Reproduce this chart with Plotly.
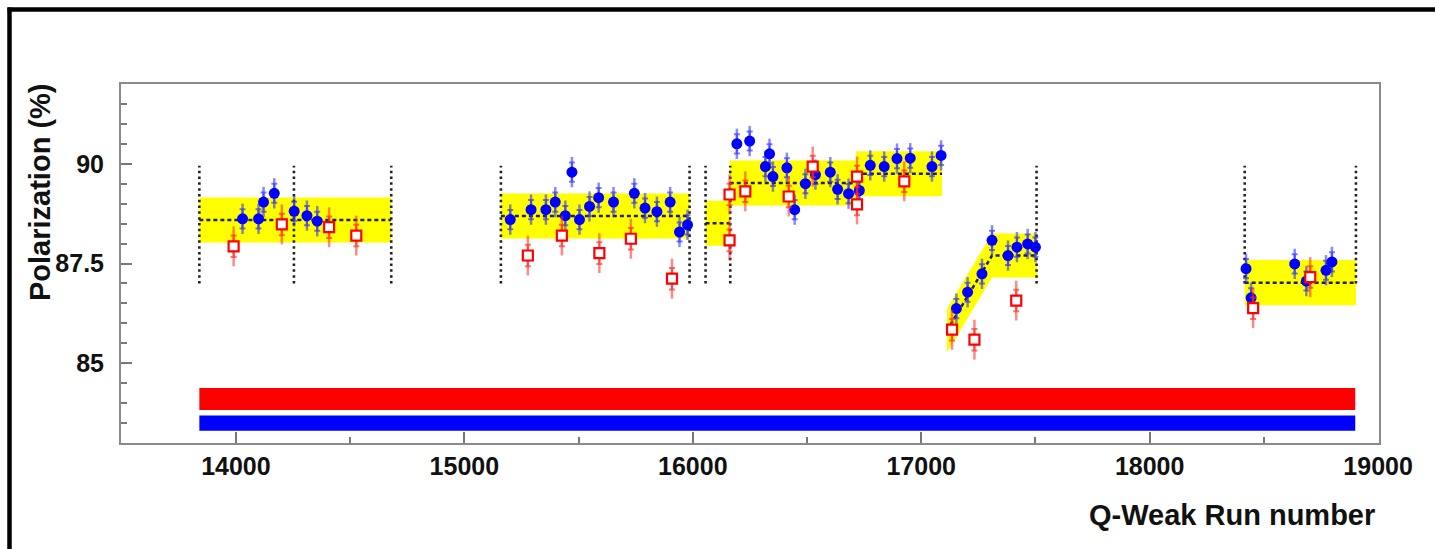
import plotly.graph_objects as go

# ---- measured polarization per run (blue: filled circles, red: open squares) ----
blue_run = [14029, 14099, 14121, 14168, 14255, 14311, 14356,
            15201, 15292, 15357, 15398, 15442, 15471, 15504, 15548, 15588,
            15653, 15744, 15791, 15843, 15901, 15942, 15977,
            16193, 16249, 16318, 16336, 16351, 16412, 16446, 16493, 16537,
            16602, 16634, 16682, 16729, 16777, 16838, 16894, 16952, 17047, 17087,
            17154, 17203, 17266, 17310, 17380, 17419, 17466, 17500,
            18422, 18444, 18635, 18686, 18772, 18798]
blue_pol = [88.62, 88.62, 89.04, 89.26, 88.81, 88.70, 88.56,
            88.60, 88.85, 88.85, 89.04, 88.70, 89.79, 88.60, 88.93, 89.15,
            89.04, 89.26, 88.89, 88.80, 89.04, 88.29, 88.47,
            90.50, 90.57, 89.93, 90.25, 89.68, 89.90, 88.85, 89.50, 89.73,
            89.79, 89.36, 89.25, 89.33, 89.96, 89.93, 90.13, 90.14, 89.93, 90.21,
            86.37, 86.78, 87.24, 88.08, 87.70, 87.91, 87.99, 87.91,
            87.37, 86.64, 87.49, 87.06, 87.33, 87.54]

red_run = [13990, 14201, 14408, 14527,
           15278, 15427, 15591, 15729, 15909,
           16161, 16161, 16230, 16420, 16525, 16719, 16719, 16926,
           17135, 17233, 17416,
           18453, 18703]
red_pol = [87.93, 88.48, 88.41, 88.20,
           87.70, 88.20, 87.76, 88.12, 87.12,
           88.08, 89.23, 89.31, 89.18, 89.93, 89.68, 88.98, 89.56,
           85.84, 85.59, 86.57,
           86.38, 87.16]

# inner (capped) and outer error bars
BLUE_ERR_INNER, BLUE_ERR_OUTER = 0.24, 0.38
RED_ERR_INNER, RED_ERR_OUTER = 0.27, 0.50

# ---- fitted levels per run period: start, end, level ----
flat_start = [13840, 15160, 16056, 16162, 16714, 18416]
flat_end = [14680, 15986, 16162, 16714, 17091, 18903]
flat_level = [88.59, 88.69, 88.51, 89.52, 89.75, 87.02]
BAND_HALF = 0.565

# ramp period: linear rise followed by a plateau
ramp_run = [17113, 17310, 17507]
ramp_level = [85.82, 87.70, 87.70]
RAMP_HALF = 0.55

# period boundaries (dotted markers)
boundary_run = [13840, 14254, 14680, 15160, 15986, 16056, 16164, 17505, 18416, 18903]
boundary_low, boundary_high = 87.0, 89.95

# horizontal reference bars near the bottom
bar_start, bar_end = 13840, 18900
red_bar = [83.83, 84.38]
blue_bar = [83.31, 83.69]

YELLOW = "#ffff00"
fig = go.Figure()

# reference bars
for (lo, hi), col in ((red_bar, "#ff0000"), (blue_bar, "#0000ff")):
    fig.add_trace(go.Scatter(
        x=[bar_start, bar_end, bar_end, bar_start, bar_start],
        y=[lo, lo, hi, hi, lo], mode="lines", fill="toself",
        fillcolor=col, line=dict(width=0, color=col), hoverinfo="skip"))

# yellow fit bands
for x0, x1, lv in zip(flat_start, flat_end, flat_level):
    fig.add_trace(go.Scatter(
        x=[x0, x1, x1, x0, x0],
        y=[lv - BAND_HALF, lv - BAND_HALF, lv + BAND_HALF, lv + BAND_HALF, lv - BAND_HALF],
        mode="lines", fill="toself", fillcolor=YELLOW,
        line=dict(width=0, color=YELLOW), hoverinfo="skip"))
fig.add_trace(go.Scatter(
    x=ramp_run + ramp_run[::-1] + [ramp_run[0]],
    y=[v + RAMP_HALF for v in ramp_level] + [v - RAMP_HALF for v in ramp_level[::-1]]
      + [ramp_level[0] + RAMP_HALF],
    mode="lines", fill="toself", fillcolor=YELLOW,
    line=dict(width=0, color=YELLOW), hoverinfo="skip"))

# fitted level lines
for x0, x1, lv in zip(flat_start, flat_end, flat_level):
    fig.add_trace(go.Scatter(x=[x0, x1], y=[lv, lv], mode="lines",
                             line=dict(color="#222222", width=2.5, dash="4px,3px"),
                             hoverinfo="skip"))
fig.add_trace(go.Scatter(x=ramp_run, y=ramp_level, mode="lines",
                         line=dict(color="#222222", width=2.5, dash="4px,3px"),
                         hoverinfo="skip"))

# period boundaries
for xb in boundary_run:
    fig.add_trace(go.Scatter(x=[xb, xb], y=[boundary_low, boundary_high], mode="lines",
                             line=dict(color="#222222", width=2.6, dash="2.5px,3.3px"),
                             hoverinfo="skip"))

# blue points
fig.add_trace(go.Scatter(
    x=blue_run, y=blue_pol, mode="markers",
    marker=dict(size=1, opacity=0),
    error_y=dict(type="constant", value=BLUE_ERR_OUTER, width=0,
                 thickness=2.5, color="rgba(40,40,255,0.55)")))
fig.add_trace(go.Scatter(
    x=blue_run, y=blue_pol, mode="markers",
    marker=dict(symbol="circle", size=11, color="#0000ff"),
    error_y=dict(type="constant", value=BLUE_ERR_INNER, width=3,
                 thickness=2, color="rgba(40,40,255,0.6)")))

# red points
fig.add_trace(go.Scatter(
    x=red_run, y=red_pol, mode="markers",
    marker=dict(size=1, opacity=0),
    error_y=dict(type="constant", value=RED_ERR_OUTER, width=0,
                 thickness=2.5, color="rgba(255,40,40,0.55)")))
fig.add_trace(go.Scatter(
    x=red_run, y=red_pol, mode="markers",
    marker=dict(symbol="square", size=10, color="white",
                line=dict(color="#ff0000", width=2.2)),
    error_y=dict(type="constant", value=RED_ERR_INNER, width=3,
                 thickness=2, color="rgba(255,40,40,0.65)")))

L, R, T, B = 121, 56, 84, 106
W, H = 1435, 549
pw, ph = W - L - R, H - T - B

def px_x(p):
    return (p - L) / pw

def px_y(p):
    return (H - B - p) / ph

tick_font = dict(family="Liberation Sans, Arial, sans-serif", size=25, color="#111111", weight="bold")
title_font = dict(family="Liberation Sans, Arial, sans-serif", size=29, color="#111111", weight="bold")

axis_common = dict(showline=True, linecolor="#8a8a8a", linewidth=2, mirror=True,
                   showgrid=False, zeroline=False, ticks="inside", ticklen=11,
                   tickwidth=1.5, tickcolor="#777777", tickfont=tick_font)

fig.update_layout(
    width=W, height=H,
    margin=dict(l=L, r=R, t=T, b=B),
    showlegend=False,
    plot_bgcolor="white", paper_bgcolor="white",
    xaxis=dict(range=[13497, 19004], tickmode="linear", tick0=14000, dtick=1000,
               tickformat="d", ticklabelstandoff=0,
               minor=dict(tick0=13500, dtick=500, ticks="inside", ticklen=6,
                          tickwidth=1.5, tickcolor="#777777"),
               **axis_common),
    yaxis=dict(range=[83, 92], tickmode="linear", tick0=85, dtick=2.5,
               ticklabelstandoff=10,
               minor=dict(tick0=83, dtick=0.5, ticks="inside", ticklen=6,
                          tickwidth=1.5, tickcolor="#777777"),
               **axis_common),
    annotations=[
        dict(text="Polarization (%)", xref="paper", yref="paper",
             x=px_x(40), y=px_y(192), xanchor="center", yanchor="middle",
             textangle=-90, showarrow=False, font=title_font),
        dict(text="Q-Weak Run number", xref="paper", yref="paper",
             x=px_x(1377), y=px_y(515), xanchor="right", yanchor="middle",
             showarrow=False, font=title_font),
    ],
    shapes=[
        dict(type="line", xref="paper", yref="paper",
             x0=px_x(9.5), x1=px_x(9.5), y0=px_y(W), y1=px_y(7.5),
             line=dict(color="black", width=4.5)),
        dict(type="line", xref="paper", yref="paper",
             x0=px_x(7.5), x1=px_x(W + 5), y0=px_y(9.5), y1=px_y(9.5),
             line=dict(color="black", width=4.5)),
    ],
)

fig.write_html("out.html")
